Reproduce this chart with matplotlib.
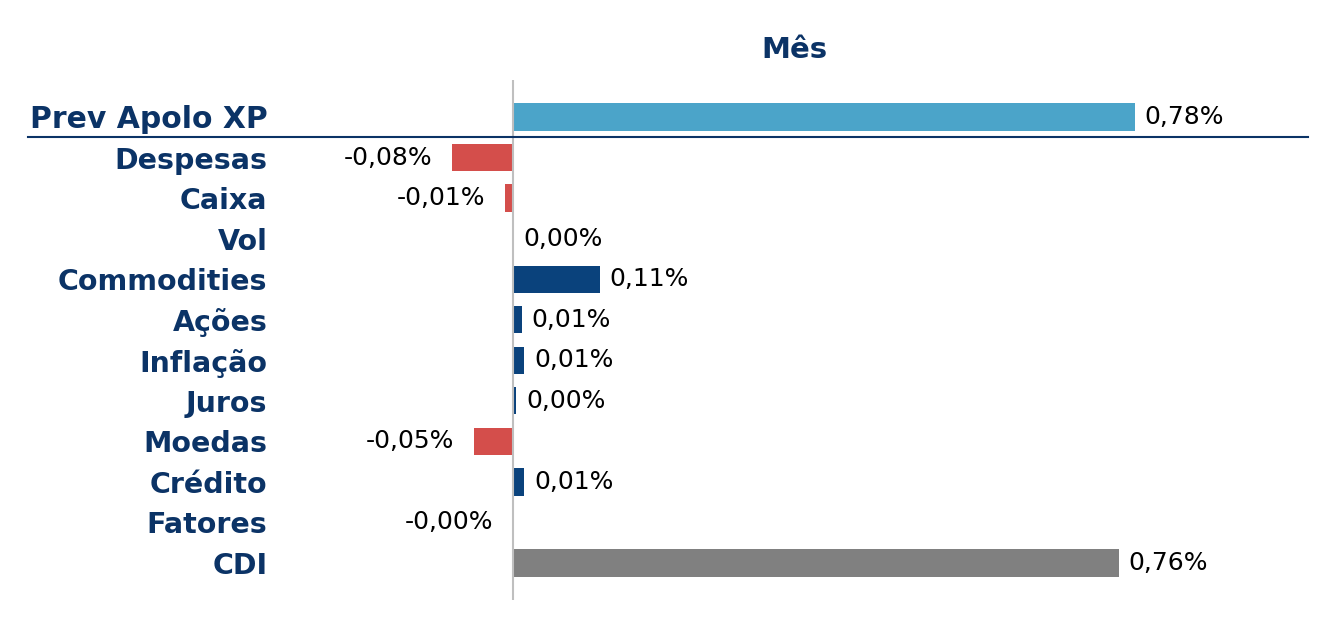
import matplotlib.pyplot as plt
import numpy as np

categories = ["Prev Apolo XP", "Despesas", "Caixa", "Vol", "Commodities", "Ações",
              "Inflação", "Juros", "Moedas", "Crédito", "Fatores", "CDI"]
values = [0.78, -0.077, -0.01, 0.0004, 0.109, 0.011, 0.014, 0.004, -0.049, 0.014, -0.0004, 0.76]

navy = "#0B3366"
colors = []
for cat, v in zip(categories, values):
    if cat == "Prev Apolo XP":
        colors.append("#4BA4C9")
    elif cat == "CDI":
        colors.append("#808080")
    elif v < 0:
        colors.append("#D44E4B")
    else:
        colors.append("#0A427C")

W, H = 1335, 631
fig = plt.figure(figsize=(W / 100, H / 100), dpi=100)
ax_left, ax_right, ax_top, ax_bot = 280, 1308, 80, 600
ax = fig.add_axes([ax_left / W, 1 - ax_bot / H, (ax_right - ax_left) / W, (ax_bot - ax_top) / H])

y_pos = np.arange(len(categories))
ax.barh(y_pos, values, height=0.67, color=colors)

px_per_unit = 797
ax.set_xlim(-(513 - ax_left) / px_per_unit, (ax_right - 513) / px_per_unit)
ax.set_ylim(11.912, -0.912)

for y, v in zip(y_pos, values):
    txt = ("%.2f%%" % v).replace(".", ",")
    if v < 0:
        ax.annotate(txt, (v, y), xytext=(-14, 0), textcoords="offset points",
                    ha="right", va="center", fontsize=18)
    else:
        ax.annotate(txt, (v, y), xytext=(7, 0), textcoords="offset points",
                    ha="left", va="center", fontsize=18)

ax.set_yticks(y_pos)
ax.set_yticklabels(categories, fontsize=20.5, fontweight="bold", color=navy)
ax.get_yticklabels()[0].set_fontsize(21.5)
ax.tick_params(axis="y", length=0, pad=9)
ax.set_xticks([])
for s in ax.spines.values():
    s.set_visible(False)

ax.axvline(0, color="#BFBFBF", lw=1.5)
ax.plot([(28 - ax_left) / (ax_right - ax_left), 1.0], [0.5, 0.5], color=navy, lw=1.5,
        transform=ax.get_yaxis_transform(), clip_on=False)

ax.set_title("Mês", fontsize=21, fontweight="bold", color=navy, pad=16)

fig.savefig("out.png", dpi=100)
